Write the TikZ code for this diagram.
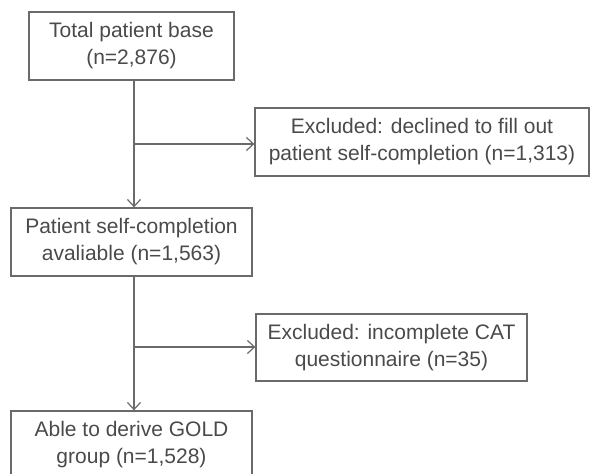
\documentclass[tikz,border=0pt]{standalone}
\usepackage{fontspec}
\setmainfont{Liberation Sans}
\usetikzlibrary{arrows.meta}
\definecolor{txt}{HTML}{4A4A4A}
\definecolor{ln}{HTML}{6A6A6A}
\tikzset{
  box/.style={draw=ln, line width=1.3pt, rectangle, align=center, inner sep=0pt,
    text=txt, font=\fontsize{21}{27}\selectfont},
  arr/.style={draw=ln, line width=1.3pt, -{Straight Barb[length=7pt,width=13pt,line width=1.2pt]}}
}
\begin{document}
\begin{tikzpicture}[x=1pt,y=-1pt]
\useasboundingbox (0,0) rectangle (590,474);
\node[box, minimum width=205pt, minimum height=68pt] (b1) at (131.5,46) {Total patient base\\(n=2,876)};
\node[box, minimum width=334pt, minimum height=68pt] (b2) at (422,142) {Excluded: declined to fill out\\patient self-completion (n=1,313)};
\node[box, minimum width=241pt, minimum height=68pt] (b3) at (131.5,242) {Patient self-completion\\avaliable (n=1,563)};
\node[box, minimum width=271pt, minimum height=67pt] (b4) at (391.5,347.5) {Excluded: incomplete CAT\\questionnaire (n=35)};
\node[box, minimum width=241pt, minimum height=68pt] (b5) at (131.5,445) {Able to derive GOLD\\group (n=1,528)};
\coordinate (s1) at (134,144);
\coordinate (s2) at (134,347);
\draw[arr] (b1.south -| s1) -- (b3.north -| s1);
\draw[arr] (s1) -- (s1 -| b2.west);
\draw[arr] (b3.south -| s2) -- (b5.north -| s2);
\draw[arr] (s2) -- (s2 -| b4.west);
\end{tikzpicture}
\end{document}
